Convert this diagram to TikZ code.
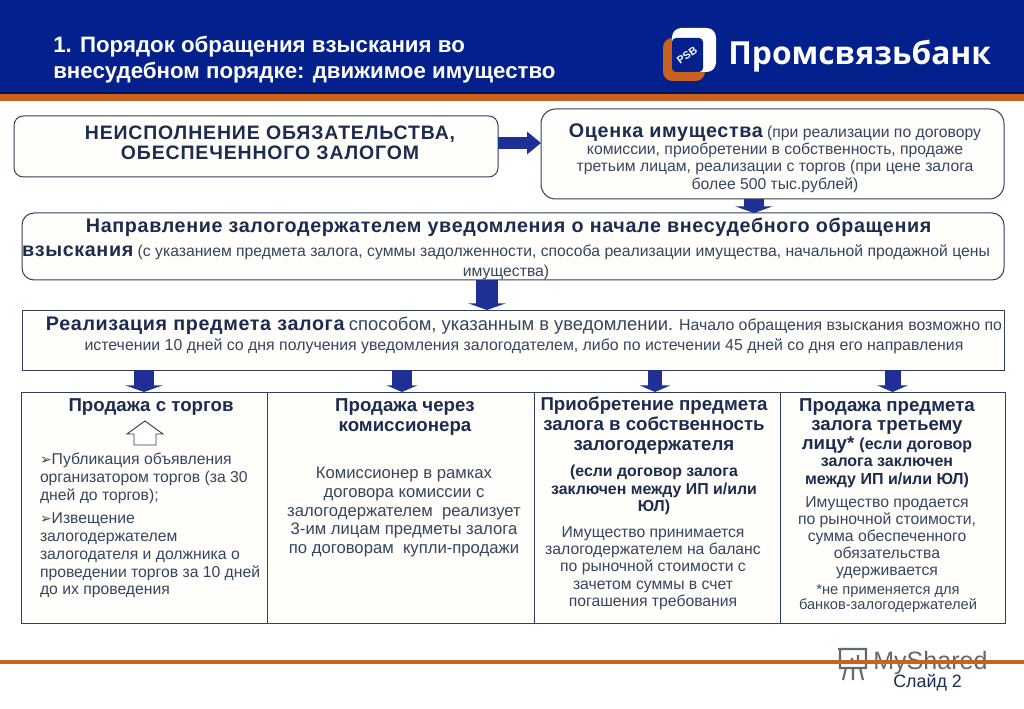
\documentclass[tikz,border=0pt]{standalone}
\usepackage{fontspec}
\usetikzlibrary{arrows.meta,calc}
\setmainfont{Liberation Sans}
\newfontfamily\logofont{Open Sans}
\newfontfamily\dejavu{DejaVu Sans}
\definecolor{navy}{HTML}{04208C}
\definecolor{bandorange}{HTML}{C8621E}
\definecolor{arrowblue}{HTML}{1F2F96}
\definecolor{headtext}{HTML}{1C2C50}
\definecolor{bodytext}{HTML}{34465F}
\definecolor{edge}{HTML}{2F4058}
\definecolor{paper}{HTML}{FFFEFB}
\definecolor{wmgray}{HTML}{5E6E66}
\newcommand{\fs}[2]{\fontsize{#1}{#2}\selectfont}
\newcommand{\hd}[1]{{\bfseries\color{headtext}\fs{14.8}{14}\addfontfeature{LetterSpace=3.2}#1}}
\newcommand{\bl}{{\dejavu\fs{10.5}{10}➢}}
\tikzset{
  x=0.75pt, y=-0.75pt,
  pxsize/.style 2 args={minimum width=#1*0.75pt, minimum height=#2*0.75pt, inner sep=0pt, outer sep=0pt},
  roundbox/.style={draw=edge, fill=paper, line width=0.75pt, rounded corners=7pt},
  flatbox/.style={draw=edge, fill=paper, line width=0.75pt},
  txt/.style={inner sep=0pt, outer sep=0pt, text=bodytext, align=center, font=\fs{11.8}{13.3}},
  bold/.style={txt, text=headtext, font=\bfseries\fs{14}{15}},
  blockH/.style={line width=9pt, color=arrowblue, -{Triangle[length=10.5pt, width=16.5pt]}},
  blockV/.style={line width=14.5pt, color=arrowblue, -{Triangle[length=5pt, width=28pt]}},
  narrowhead/.style={-{Triangle[length=5pt, width=23pt]}},
}
\begin{document}
\begin{tikzpicture}
\useasboundingbox (0,0) rectangle (1024,709);
\fill[white] (0,0) rectangle (1024,709);
% header
\fill[navy] (0,0) rectangle (1024,93);
\fill[bandorange] (0,93) rectangle (1024,101);
\fill[navy!60!black] (0,92) rectangle (1024,94);
\node[anchor=west, inner sep=0pt, text=white, align=left, font=\bfseries\fs{16.7}{19.5}] (title) at (53,59.5)
  {1. Порядок обращения взыскания во\\внесудебном порядке: движимое имущество};
% logo
\fill[bandorange, rounded corners=7pt] (663,38) rectangle (705,81);
\fill[white, rounded corners=7pt] (672,28) rectangle (716,72);
\fill[navy, rounded corners=3pt] (672,38) rectangle (703,72);
\node[inner sep=0pt, text=white, font=\bfseries\fs{8}{9}, rotate=35] (logomark) at (687,55) {PSB};
\node[anchor=west, inner sep=0pt, text=white, font=\logofont\bfseries\fs{23.8}{28}] (logotext) at (728,56) {Промсвязьбанк};
% footer: watermark lies under the orange line
\node[anchor=west, inner sep=0pt, text=wmgray, font=\fs{18.8}{22}] (wm) at (873,663) {MyShared};
\draw[wmgray, line width=1.6pt] (838,649) -- (866,649) -- (866,668) -- (840,668) -- (840,649)
  (846,668) -- (843,680) (860,668) -- (863,680) (853,668) -- (853,680)
  (846,664) -- (846,660) (852,664) -- (852,658) (858,664) -- (858,655);
\fill[bandorange] (0,660) rectangle (1024,664);
\node[anchor=west, inner sep=0pt, text=headtext, font=\fs{13.4}{14}] (slide) at (893,683) {Слайд 2};
% boxes
\node[roundbox, pxsize={484}{61}] (nonperf) at (256,146.5) {};
\node[roundbox, rounded corners=11pt, pxsize={463}{90}] (appraisal) at (772.5,154) {};
\node[roundbox, rounded corners=9pt, pxsize={982}{67}] (notice) at (513,246.5) {};
\node[flatbox, pxsize={982}{60}] (realize) at (513,340) {};
\node[flatbox, pxsize={246}{231}] (col1) at (144,507.5) {};
\node[flatbox, pxsize={267}{231}] (col2) at (400.5,507.5) {};
\node[flatbox, pxsize={246}{231}] (col3) at (657,507.5) {};
\node[flatbox, pxsize={225}{231}] (col4) at (892.5,507.5) {};
% arrows
\draw[blockH] (nonperf.east |- 0,143) -- (appraisal.west |- 0,143);
\coordinate (a1) at (754,199);
\draw[blockV] (a1) -- (a1 |- notice.north);
\coordinate (a2) at (487,280);
\draw[blockV, line width=17pt] (a2) -- (a2 |- realize.north);
\coordinate (e1) at (col1.north);
\coordinate (e2) at ([xshift=1.1pt]col2.north);
\coordinate (e3) at ([xshift=-1.5pt]col3.north);
\coordinate (e4) at (col4.north);
\draw[blockV] (e1 |- realize.south) -- (e1);
\draw[blockV, narrowhead] (e2 |- realize.south) -- (e2);
\draw[blockV, narrowhead, line width=11pt] (e3 |- realize.south) -- (e3);
\draw[blockV, narrowhead, line width=12pt] (e4 |- realize.south) -- (e4);
% box texts
\node[bold, font=\bfseries\fs{14.6}{15}] (t1) at (270,143) {\addfontfeature{LetterSpace=4.4}НЕИСПОЛНЕНИЕ ОБЯЗАТЕЛЬСТВА,\\\addfontfeature{LetterSpace=4.4}ОБЕСПЕЧЕННОГО ЗАЛОГОМ};
\node[txt, font=\fs{11.8}{12.9}] (t2) at (775,158) {\hd{Оценка имущества} (при реализации по договору\\комиссии, приобретении в собственность, продаже\\третьим лицам, реализации с торгов (при цене залога\\более 500 тыс.рублей)};
\node[txt, font=\fs{11.8}{15}] (t3) at (506,249) {\hd{\hspace*{4pt}Направление залогодержателем уведомления о начале внесудебного обращения}\\[3pt]\hd{взыскания} (с указанием предмета залога, суммы задолженности, способа реализации имущества, начальной продажной цены\\имущества)};
\node[txt, font=\fs{11.9}{15}] (t4) at (524,335) {\hd{Реализация предмета залога} {\fs{13.8}{14}способом, указанным в уведомлении.} Начало обращения взыскания возможно по\\истечении 10 дней со дня получения уведомления залогодателем, либо по истечении 45 дней со дня его направления};
% column 1
\node[bold] (c1h) at (151,407) {Продажа с торгов};
\draw[edge, fill=white, line width=0.7pt] (134,445) -- (134,434) -- (127,434) -- (145,421) -- (163,434) -- (156,434) -- (156,445) -- cycle;
\node[txt, anchor=north west, align=left] (c1a) at (40,453) {\bl Публикация объявления\\организатором торгов (за 30\\дней до торгов);};
\node[txt, anchor=north west, align=left] (c1b) at (40,513) {\bl Извещение\\залогодержателем\\залогодателя и должника о\\проведении торгов за 10 дней\\до их проведения};
% column 2
\node[bold, font=\bfseries\fs{14}{15}] (c2h) at (405,417) {Продажа через\\комиссионера};
\node[txt, font=\fs{12.5}{14.2}] (c2b) at (404,512) {Комиссионер в рамках\\договора комиссии с\\залогодержателем~ реализует\\3-им лицам предметы залога\\по договорам~ купли-продажи};
% column 3
\node[bold, font=\bfseries\fs{14}{15}] (c3h) at (654,426) {Приобретение предмета\\залога в собственность\\залогодержателя};
\node[bold, font=\bfseries\fs{11.9}{13}] (c3m) at (654,490) {(если договор залога\\заключен между ИП и/или\\ЮЛ)};
\node[txt, font=\fs{11.8}{13}] (c3b) at (653,568) {Имущество принимается\\залогодержателем на баланс\\по рыночной стоимости с\\зачетом суммы в счет\\погашения требования};
% column 4
\node[bold, font=\bfseries\fs{14}{14.5}] (c4h) at (887,426) {Продажа предмета\\залога третьему\\лицу* \fs{12}{14.5}(если договор};
\node[bold, font=\bfseries\fs{12}{13}] (c4m) at (887,473) {залога заключен\\между ИП и/или ЮЛ)};
\node[txt, font=\fs{11.8}{12.8}] (c4b) at (887,537.5) {Имущество продается\\по рыночной стоимости,\\сумма обеспеченного\\обязательства\\удерживается};
\node[txt, font=\fs{11}{11.6}] (c4n) at (888,598.5) {*не применяется для\\банков-залогодержателей};
\end{tikzpicture}
\end{document}
